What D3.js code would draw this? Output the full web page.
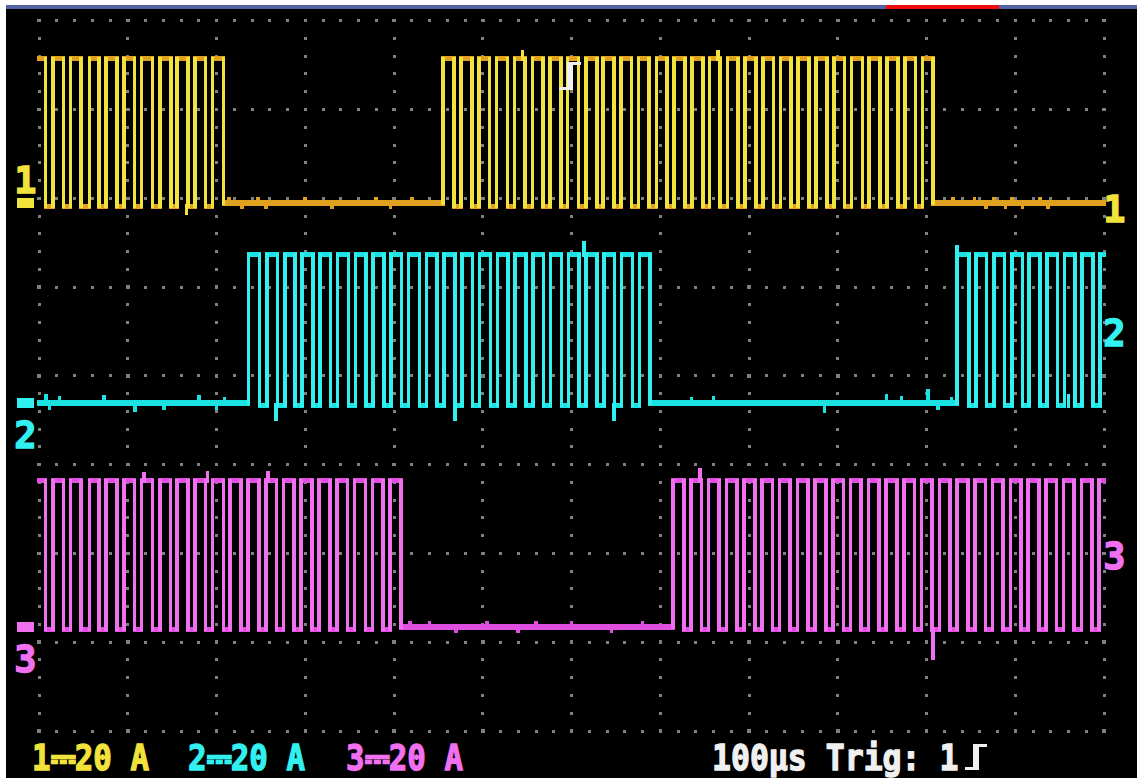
<!DOCTYPE html>
<html>
<head>
<meta charset="utf-8">
<script src="https://cdn.jsdelivr.net/npm/d3@7"></script>
<style>
  html, body { margin: 0; padding: 0; background: #ffffff; }
  svg { display: block; }
</style>
</head>
<body>
<svg id="scope" width="1137" height="778"></svg>
<script>
// ---- Acquisition: 100 µs/div, 12 divisions; 20 A/div, 8 divisions ----
const timeDivs = [0, 100, 200, 300, 400, 500, 600, 700, 800, 900, 1000, 1100, 1200];
const ampDivs = [0, 1, 2, 3, 4, 5, 6, 7, 8];
const channelNames = ["1", "2", "3"];
const channelScaleLabels = ["1⎓20 A", "2⎓20 A", "3⎓20 A"];
const timebaseLabel = "100µs Trig: 1";

// Pulse edges in µs (rise[i] paired with fall[i])
const ch1Rise = [0, 16.1, 35.7, 56.7, 75.5, 95.8, 115.7, 136.3, 155.5, 175.8, 195.7,
  455.5, 475.5, 495.8, 515.7, 535.6, 555.9, 575.8, 595.3, 616.0, 635.8, 655.8, 675.3, 695.6,
  715.4, 735.7, 755.5, 775.8, 795.6, 815.5, 835.7, 855.4, 875.6, 895.5, 915.7, 935.4, 955.6, 975.5, 995.4];
const ch1Fall = [7.5, 27.4, 47.3, 67.6, 88.2, 107.8, 128.1, 148.7, 167.6, 187.8, 207.7,
  467.6, 488.2, 507.4, 528.1, 547.6, 567.9, 587.9, 608.1, 628.4, 648.2, 667.8, 687.5, 707.8,
  727.6, 747.9, 767.4, 787.9, 807.7, 827.8, 847.6, 867.9, 887.7, 907.6, 927.8, 947.7, 967.8, 987.6, 1007.6];

const ch2Rise = [235.9, 256.6, 277.2, 296.4, 316.5, 336.4, 356.5, 376.4, 396.5, 416.4, 436.5, 456.4,
  476.5, 496.4, 516.5, 536.4, 556.5, 576.4, 596.5, 616.4, 636.5, 656.4, 676.5,
  1034.4, 1055.8, 1076.1, 1096.0, 1115.5, 1135.5, 1155.6, 1175.4, 1195.5];
const ch2Fall = [248.3, 268.6, 288.5, 308.6, 328.5, 348.6, 368.5, 388.6, 408.5, 428.6, 448.5, 468.6,
  488.5, 508.6, 528.5, 548.6, 568.5, 588.6, 608.5, 628.6, 648.5, 668.6, 688.5,
  1047.9, 1067.8, 1088.1, 1108.0, 1127.9, 1147.4, 1167.6, 1187.5, 1200];

const ch3Rise = [0, 16.1, 35.7, 56.7, 75.5, 95.8, 115.7, 136.3, 155.5, 175.8, 195.7, 215.5, 235.8,
  255.6, 275.7, 295.5, 315.8, 335.5, 355.7, 375.6, 395.6,
  714.4, 734.6, 754.5, 774.6, 794.5, 814.6, 834.5, 854.6, 874.5, 894.6, 914.5, 934.6, 954.5,
  974.6, 994.5, 1014.6, 1034.5, 1054.6, 1074.5, 1094.6, 1114.5, 1134.6, 1154.5, 1174.6, 1194.5];
const ch3Fall = [7.5, 27.6, 47.4, 67.8, 88.2, 107.8, 128.1, 148.2, 167.6, 187.8, 207.7, 227.6, 247.8,
  267.7, 287.6, 307.8, 327.7, 347.6, 367.8, 387.6, 407.6,
  726.5, 746.6, 766.5, 786.6, 806.5, 826.6, 846.5, 866.6, 886.5, 906.6, 926.5, 946.6, 966.5,
  986.6, 1006.5, 1026.6, 1046.5, 1066.6, 1086.5, 1106.6, 1126.5, 1146.6, 1166.5, 1186.6, 1200];

// Current levels in A: on-level, PWM off-level, idle level
const highLevel = [32.5, 33.5, 33.0];
const pwmLowLevel = [-0.9, -0.6, -0.6];
const idleLevel = [0, 0, 0];

// Short noise excursions: [time µs, from A, to A]
const ch1Noise = [[166, -0.9, -2.2], [214, 0, 0.9], [229, 0, -0.9], [247, 0, 0.9], [256, 0, -0.9],
  [300, 0, 0.9], [330, 0, -0.9], [380, 0, 0.9], [396, 0, -0.9], [420, 0, 0.9],
  [1030, 0, 0.9], [1054, 0, 0.9], [1067, 0, -0.9], [1076, 0, 0.9], [1089, 0, -0.9],
  [1096, 0, 0.9], [1108, 0, -0.9], [1128, 0, 0.9], [1137, 0, -0.9], [545, 32.5, 33.8], [765, 32.5, 33.8]];
const ch2Noise = [[8, 0, 1.5], [12, 0, -1.0], [23, 0, 1.0], [73, 0, 1.2], [108, 0, -1.4], [141, 0, -1.0],
  [180, 0, 1.2], [200, 0, -1.0], [209, 0, 0.9], [267, -0.6, -3.6], [469, -0.6, -3.4], [648, -0.6, -3.6],
  [614, 33.5, 36.0], [735, 0, 0.9], [760, 0, 1.0], [885, 0, -1.6], [955, 0, 1.4], [972, 0, 1.0],
  [1002, 0, 2.6], [1013, 0, -1.0], [1028, 0, 0.9], [1034.4, 33.5, 35.0], [1160, -0.6, 1.5]];
const ch3Noise = [[418, 0, 0.9], [440, 0, 0.9], [470, 0, -0.9], [505, 0, 0.9], [540, 0, -0.9],
  [560, 0, 0.9], [600, 0, 0.9], [645, 0, -0.9], [680, 0, 0.9], [1007.5, -0.6, -6.8],
  [190, 33, 34.6], [258, 33, 34.6], [745, 33, 35.2], [118, 33, 34.4]];

const traceData = [
  { rise: ch1Rise, fall: ch1Fall, noise: ch1Noise },
  { rise: ch2Rise, fall: ch2Fall, noise: ch2Noise },
  { rise: ch3Rise, fall: ch3Fall, noise: ch3Noise }
];

// ---- Styling ----
const flatColors = ["#e0a020", "#1ae2e2", "#e050e0"];
const edgeColors = ["#f2e23c", "#33f0f0", "#f070f0"];
const labelColors = ["#f2e23c", "#33f0f0", "#f070f0"];
const groundY = [203, 403, 627];

const W = 1137, H = 778;
const svg = d3.select("#scope");

// frame
svg.append("rect").attr("x", 0).attr("y", 0).attr("width", W).attr("height", H).attr("fill", "#ffffff");
svg.append("rect").attr("x", 6).attr("y", 5).attr("width", W - 6).attr("height", H - 5).attr("fill", "#000000");
svg.append("rect").attr("x", 6).attr("y", 5).attr("width", W - 6).attr("height", 4).attr("fill", "#5462a4");
svg.append("rect").attr("x", 886).attr("y", 5).attr("width", 113).attr("height", 4).attr("fill", "#ee0c0c");

const x = d3.scaleLinear().domain([0, 1200]).range([39, 1104]);
const gridY = d3.scaleLinear().domain([0, 8]).range([20.7, 731]);
const ampPerDiv = 20;
const divPx = gridY(1) - gridY(0);
const yScales = groundY.map(g => d3.scaleLinear().domain([0, ampPerDiv]).range([g, g - divPx]));

// ---- Dotted graticule ----
const grid = svg.append("g").attr("shape-rendering", "crispEdges");
const minorT = d3.range(0, 1200 + 0.01, 20);
const minorDiv = d3.range(0, 8 + 0.001, 0.2);
const dots = [];
ampDivs.forEach(d => minorT.forEach(t => dots.push([x(t), gridY(d), t % 100 === 0])));
timeDivs.forEach(t => minorDiv.forEach(d => {
  if (Math.abs(d - Math.round(d)) > 1e-6) dots.push([x(t), gridY(d), false]);
}));
grid.selectAll("rect").data(dots).join("rect")
  .attr("x", d => d[0] - (d[2] ? 1.75 : 1.5))
  .attr("y", d => d[1] - (d[2] ? 1.75 : 1.5))
  .attr("width", d => d[2] ? 3.5 : 3)
  .attr("height", d => d[2] ? 3.5 : 3)
  .attr("fill", "#808080");

// ---- Traces ----
const HTH = 5, IDLE_TH = 6.5, VTH = 3.6;
traceData.forEach((ch, ci) => {
  const y = yScales[ci];
  const flats = [], edges = [];
  const n = ch.rise.length;
  for (let i = 0; i < n; i++) {
    const r = ch.rise[i], f = ch.fall[i];
    flats.push([r, f, highLevel[ci]]);
    const prevFall = i === 0 ? null : ch.fall[i - 1];
    const gapLow = (prevFall !== null && r - prevFall < 15) ? pwmLowLevel[ci] : idleLevel[ci];
    const nextRise = i + 1 < n ? ch.rise[i + 1] : null;
    const afterLow = (nextRise !== null && nextRise - f < 15) ? pwmLowLevel[ci] : idleLevel[ci];
    if (r > 0) edges.push([r, gapLow, highLevel[ci]]);
    if (f < 1200) edges.push([f, highLevel[ci], afterLow]);
    if (i === 0 && r > 0) flats.push([0, r, idleLevel[ci]]);
    if (f < 1200) flats.push([f, nextRise === null ? 1200 : nextRise, afterLow]);
  }
  const g = svg.append("g").attr("shape-rendering", "crispEdges");
  const th = d => (d[2] === idleLevel[ci] ? IDLE_TH : HTH);
  g.selectAll("rect.flat").data(flats).join("rect").attr("class", "flat")
    .attr("x", d => x(d[0]) - VTH / 2)
    .attr("width", d => x(d[1]) - x(d[0]) + VTH)
    .attr("y", d => y(d[2]) - th(d) / 2)
    .attr("height", th)
    .attr("fill", flatColors[ci]);
  g.selectAll("rect.noise").data(ch.noise).join("rect").attr("class", "noise")
    .attr("x", d => x(d[0]) - VTH / 2)
    .attr("width", VTH)
    .attr("y", d => Math.min(y(d[1]), y(d[2])) - HTH / 2)
    .attr("height", d => Math.abs(y(d[1]) - y(d[2])) + HTH)
    .attr("fill", d => (d[1] === 0 ? flatColors[ci] : edgeColors[ci]));
  g.selectAll("rect.edge").data(edges).join("rect").attr("class", "edge")
    .attr("x", d => x(d[0]) - VTH / 2)
    .attr("width", VTH)
    .attr("y", d => Math.min(y(d[1]), y(d[2])) - HTH / 2 + 1)
    .attr("height", d => Math.abs(y(d[1]) - y(d[2])) + HTH - 2)
    .attr("fill", edgeColors[ci]);
});

// ---- Channel markers ----
const font = "'DejaVu Sans Mono', monospace";
function boldText(sel, col) {
  return sel.attr("font-family", font).attr("font-weight", "bold")
    .attr("fill", col).attr("stroke", col).attr("stroke-width", 1.3);
}
channelNames.forEach((name, ci) => {
  const gy = groundY[ci];
  svg.append("rect").attr("x", 17).attr("y", gy - 5).attr("width", 17).attr("height", 10)
    .attr("fill", labelColors[ci]);
  // left label: above the marker for ch1, below for ch2/ch3
  const leftBase = ci === 0 ? gy - 10 : gy + 45;
  boldText(svg.append("text"), labelColors[ci])
    .attr("x", 25.5).attr("y", leftBase).attr("text-anchor", "middle")
    .attr("font-size", 37).text(name);
  // right-hand label at the trace end
  const rightBase = [222, 346, 569][ci];
  boldText(svg.append("text"), labelColors[ci])
    .attr("x", 1114.5).attr("y", rightBase).attr("text-anchor", "middle")
    .attr("font-size", 37).text(name);
});

// ---- Status line (horizontally condensed) ----
const labelX = [32, 188, 346];
channelScaleLabels.forEach((t, ci) => {
  boldText(svg.append("text"), labelColors[ci])
    .attr("transform", `translate(${labelX[ci]},769.5) scale(0.88,1)`)
    .attr("font-size", 35)
    .text(t);
});
boldText(svg.append("text"), "#f0f0f0")
  .attr("transform", "translate(712,769.5) scale(0.9,1)")
  .attr("font-size", 35)
  .text(timebaseLabel);

// rising-edge trigger symbols
function edgeSymbol(x0, yTop, h, col) {
  const p = d3.path();
  p.moveTo(x0, yTop + h - 3.4);
  p.lineTo(x0 + 7.5, yTop + h - 3.4);
  p.lineTo(x0 + 7.5, yTop);
  p.lineTo(x0 + 22, yTop);
  p.lineTo(x0 + 22, yTop + 3.4);
  p.lineTo(x0 + 14, yTop + 3.4);
  p.lineTo(x0 + 14, yTop + h);
  p.lineTo(x0, yTop + h);
  p.closePath();
  svg.append("path").attr("d", p.toString()).attr("fill", col).attr("shape-rendering", "crispEdges");
}
edgeSymbol(559, 62, 28, "#f0f0f0");
edgeSymbol(965, 744, 26, "#f0f0f0");
</script>
</body>
</html>
